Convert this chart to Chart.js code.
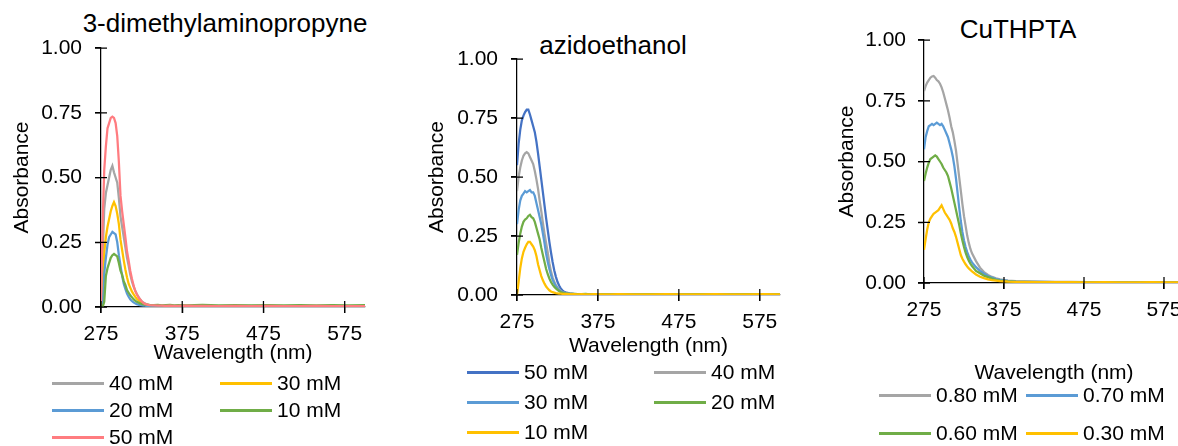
<!DOCTYPE html>
<html>
<head>
    <meta charset="utf-8">
    <script src="https://cdn.jsdelivr.net/npm/chart.js@4.4.1/dist/chart.umd.min.js"></script>
    <title>Spectres UV-vis</title>
    <style>
        body { margin: 0; width: 1178px; height: 446px; overflow: hidden; position: relative; background: #fff;
               font-family: "Liberation Sans", Arial, sans-serif; color: #000; }
        canvas { position: absolute; top: 0; }
        .titre { position: absolute; width: 340px; font-size: 26px; line-height: 30px; text-align: center; white-space: nowrap; }
        .legende { position: absolute; font-size: 21px; }
        .item { position: absolute; display: flex; align-items: center; white-space: nowrap; line-height: 24px; }
        .trait { display: inline-block; width: 52px; height: 3px; margin-right: 5px; }
    </style>
</head>
<body>

<div class="titre" style="left:55px; top:8px;">3-dimethylaminopropyne</div>
<div class="titre" style="left:443px; top:30px;">azidoethanol</div>
<div class="titre" style="left:848px; top:14px;">CuTHPTA</div>

<canvas id="chartAlcyne" width="400" height="372" style="left:0px;"></canvas>
<canvas id="chartAzide" width="390" height="365" style="left:410px;"></canvas>
<canvas id="chartCuivre" width="400" height="392" style="left:810px;"></canvas>

<div class="legende" id="legAlcyne" style="left:52px; top:371px;"></div>
<div class="legende" id="legAzide" style="left:467px; top:360px;"></div>
<div class="legende" id="legCuivre" style="left:879px; top:383px;"></div>

<script>
    // Longueurs d'onde (nm) communes aux trois spectres
    const wavelength = [275, 277, 279, 281, 283, 285, 287, 289, 291, 293, 295, 297, 299, 301, 303, 305,
        307, 309, 311, 313, 315, 317, 319, 321, 323, 325, 327, 329, 331, 333, 335,
        340, 345, 350, 355, 360, 365, 370, 380, 390, 400, 420, 440, 460, 480, 500, 520, 540, 560, 580, 600];

    const xTicks = [275, 375, 475, 575];
    const yTicks = [0, 0.25, 0.5, 0.75, 1];

    // 3-dimethylaminopropyne
    const alcyneLabels = ['40 mM', '30 mM', '20 mM', '10 mM', '50 mM'];
    const alcyneColors = ['#a5a5a5', '#ffc000', '#5b9bd5', '#70ad47', '#ff7c80'];
    const alcyne40 = [0.02, 0.20, 0.38, 0.44, 0.47, 0.50, 0.53, 0.545, 0.52, 0.50, 0.48, 0.42, 0.35, 0.31, 0.27, 0.23,
        0.19, 0.16, 0.125, 0.10, 0.08, 0.065, 0.05, 0.04, 0.03, 0.022, 0.018, 0.014, 0.011, 0.009, 0.008,
        0.006, 0.005, 0.004, 0.005, 0.004, 0.004, 0.003, 0.004, 0.003, 0.004, 0.003, 0.003, 0.004, 0.003, 0.003, 0.002, 0.003, 0.003, 0.002, 0.003];
    const alcyne30 = [0.0, 0.08, 0.21, 0.27, 0.31, 0.34, 0.37, 0.39, 0.405, 0.39, 0.36, 0.32, 0.26, 0.22, 0.18, 0.145,
        0.115, 0.09, 0.075, 0.06, 0.05, 0.04, 0.032, 0.026, 0.021, 0.017, 0.014, 0.011, 0.009, 0.008, 0.007,
        0.005, 0.004, 0.004, 0.003, 0.004, 0.003, 0.003, 0.004, 0.003, 0.003, 0.002, 0.003, 0.003, 0.002, 0.003, 0.002, 0.003, 0.002, 0.002, 0.003];
    const alcyne20 = [0.0, 0.0, 0.13, 0.19, 0.24, 0.27, 0.28, 0.29, 0.285, 0.28, 0.25, 0.20, 0.16, 0.12, 0.09, 0.07,
        0.052, 0.04, 0.03, 0.023, 0.018, 0.014, 0.011, 0.009, 0.007, 0.006, 0.005, 0.005, 0.004, 0.004, 0.004,
        0.003, 0.003, 0.002, 0.003, 0.002, 0.002, 0.003, 0.002, 0.002, 0.001, 0.002, 0.002, 0.001, 0.002, 0.002, 0.001, 0.002, 0.001, 0.002, 0.001];
    const alcyne10 = [0.0, 0.0, 0.02, 0.12, 0.15, 0.17, 0.19, 0.20, 0.205, 0.20, 0.195, 0.17, 0.14, 0.125, 0.10, 0.085,
        0.065, 0.055, 0.045, 0.038, 0.03, 0.025, 0.02, 0.017, 0.014, 0.012, 0.01, 0.009, 0.008, 0.008, 0.007,
        0.007, 0.008, 0.006, 0.007, 0.008, 0.006, 0.007, 0.006, 0.007, 0.008, 0.006, 0.007, 0.006, 0.007, 0.006, 0.007, 0.006, 0.007, 0.006, 0.007];
    const alcyne50 = [0.02, 0.32, 0.53, 0.62, 0.69, 0.71, 0.73, 0.735, 0.73, 0.71, 0.66, 0.56, 0.43, 0.37, 0.32, 0.27,
        0.215, 0.18, 0.14, 0.11, 0.085, 0.062, 0.05, 0.038, 0.03, 0.022, 0.016, 0.012, 0.01, 0.008, 0.007,
        0.006, 0.005, 0.005, 0.004, 0.005, 0.004, 0.004, 0.005, 0.004, 0.004, 0.003, 0.004, 0.003, 0.004, 0.003, 0.003, 0.004, 0.003, 0.003, 0.003];

    // azidoethanol
    const azideLabels = ['50 mM', '40 mM', '30 mM', '20 mM', '10 mM'];
    const azideColors = ['#4472c4', '#a5a5a5', '#5b9bd5', '#70ad47', '#ffc000'];
    const azide50 = [0.55, 0.64, 0.70, 0.74, 0.76, 0.775, 0.785, 0.785, 0.765, 0.74, 0.715, 0.69, 0.65, 0.60, 0.545, 0.49,
        0.435, 0.38, 0.325, 0.275, 0.225, 0.18, 0.14, 0.105, 0.078, 0.056, 0.04, 0.028, 0.02, 0.014, 0.011,
        0.007, 0.005, 0.004, 0.004, 0.003, 0.004, 0.003, 0.003, 0.004, 0.003, 0.003, 0.002, 0.003, 0.003, 0.002, 0.003, 0.002, 0.003, 0.002, 0.003];
    const azide40 = [0.44, 0.50, 0.54, 0.57, 0.59, 0.60, 0.605, 0.60, 0.585, 0.57, 0.555, 0.525, 0.49, 0.45, 0.40, 0.355,
        0.305, 0.26, 0.22, 0.18, 0.135, 0.10, 0.075, 0.056, 0.042, 0.032, 0.024, 0.017, 0.013, 0.01, 0.008,
        0.006, 0.005, 0.004, 0.003, 0.004, 0.003, 0.003, 0.004, 0.003, 0.002, 0.003, 0.003, 0.002, 0.003, 0.002, 0.003, 0.002, 0.002, 0.003, 0.002];
    const azide30 = [0.30, 0.36, 0.40, 0.42, 0.43, 0.44, 0.435, 0.44, 0.445, 0.435, 0.435, 0.42, 0.39, 0.36, 0.33, 0.30,
        0.26, 0.22, 0.175, 0.14, 0.11, 0.085, 0.064, 0.05, 0.038, 0.028, 0.02, 0.015, 0.011, 0.009, 0.007,
        0.005, 0.004, 0.004, 0.003, 0.003, 0.004, 0.003, 0.002, 0.003, 0.003, 0.002, 0.003, 0.002, 0.002, 0.003, 0.002, 0.002, 0.003, 0.002, 0.002];
    const azide20 = [0.17, 0.22, 0.26, 0.29, 0.31, 0.32, 0.325, 0.335, 0.34, 0.33, 0.325, 0.31, 0.285, 0.26, 0.235, 0.20,
        0.17, 0.14, 0.11, 0.088, 0.07, 0.055, 0.044, 0.035, 0.028, 0.022, 0.017, 0.013, 0.01, 0.008, 0.007,
        0.005, 0.005, 0.004, 0.004, 0.005, 0.003, 0.004, 0.004, 0.003, 0.004, 0.003, 0.004, 0.003, 0.003, 0.004, 0.003, 0.003, 0.004, 0.003, 0.003];
    const azide10 = [0.0, 0.056, 0.113, 0.155, 0.183, 0.20, 0.215, 0.225, 0.225, 0.215, 0.205, 0.19, 0.165, 0.13, 0.105, 0.08,
        0.062, 0.048, 0.036, 0.027, 0.02, 0.015, 0.012, 0.01, 0.008, 0.007, 0.006, 0.006, 0.005, 0.005, 0.005,
        0.004, 0.004, 0.003, 0.004, 0.003, 0.003, 0.004, 0.003, 0.003, 0.004, 0.003, 0.003, 0.004, 0.003, 0.003, 0.004, 0.003, 0.003, 0.004, 0.003];

    // CuTHPTA
    const cuivreLabels = ['0.80 mM', '0.70 mM', '0.60 mM', '0.30 mM'];
    const cuivreColors = ['#a5a5a5', '#5b9bd5', '#70ad47', '#ffc000'];
    const cuivre080 = [0.79, 0.81, 0.825, 0.835, 0.845, 0.85, 0.852, 0.845, 0.835, 0.83, 0.82, 0.805, 0.785, 0.76, 0.735, 0.71,
        0.68, 0.645, 0.62, 0.585, 0.545, 0.49, 0.435, 0.38, 0.325, 0.275, 0.235, 0.195, 0.165, 0.14, 0.122,
        0.09, 0.063, 0.045, 0.033, 0.025, 0.019, 0.015, 0.01, 0.008, 0.007, 0.006, 0.005, 0.005, 0.004, 0.004, 0.004, 0.003, 0.004, 0.003, 0.003];
    const cuivre070 = [0.55, 0.60, 0.625, 0.645, 0.65, 0.655, 0.65, 0.655, 0.66, 0.655, 0.65, 0.655, 0.645, 0.63, 0.615, 0.60,
        0.575, 0.55, 0.52, 0.48, 0.43, 0.37, 0.31, 0.255, 0.21, 0.175, 0.148, 0.127, 0.11, 0.097, 0.085,
        0.065, 0.05, 0.038, 0.029, 0.022, 0.016, 0.013, 0.009, 0.007, 0.006, 0.005, 0.004, 0.004, 0.004, 0.003, 0.003, 0.003, 0.003, 0.003, 0.002];
    const cuivre060 = [0.42, 0.45, 0.475, 0.495, 0.51, 0.515, 0.52, 0.525, 0.52, 0.51, 0.50, 0.49, 0.475, 0.465, 0.455, 0.44,
        0.415, 0.39, 0.36, 0.33, 0.30, 0.27, 0.24, 0.205, 0.175, 0.148, 0.125, 0.107, 0.092, 0.08, 0.07,
        0.05, 0.04, 0.03, 0.024, 0.018, 0.013, 0.01, 0.007, 0.005, 0.004, 0.004, 0.003, 0.003, 0.002, 0.003, 0.002, 0.002, 0.002, 0.002, 0.002];
    const cuivre030 = [0.136, 0.18, 0.22, 0.25, 0.265, 0.275, 0.285, 0.29, 0.295, 0.30, 0.31, 0.32, 0.305, 0.29, 0.28, 0.27,
        0.26, 0.245, 0.225, 0.21, 0.19, 0.165, 0.14, 0.115, 0.1, 0.088, 0.077, 0.068, 0.06, 0.054, 0.048,
        0.035, 0.026, 0.02, 0.015, 0.012, 0.01, 0.008, 0.006, 0.005, 0.005, 0.004, 0.004, 0.004, 0.003, 0.004, 0.003, 0.003, 0.004, 0.003, 0.003];

    Chart.defaults.font.family = '"Liberation Sans", Arial, sans-serif';
    Chart.defaults.font.size = 21;
    Chart.defaults.color = '#000';

    // Les graduations traversent les axes (des deux côtés)
    const croixGraduations = {
        id: 'croixGraduations',
        afterDatasetsDraw(chart) {
            const {ctx, chartArea, scales} = chart;
            ctx.save();
            ctx.strokeStyle = '#000';
            ctx.lineWidth = 1.25;
            ctx.beginPath();
            scales.x.ticks.forEach(t => {
                const px = scales.x.getPixelForValue(t.value);
                ctx.moveTo(px, chartArea.bottom - 6);
                ctx.lineTo(px, chartArea.bottom + 6);
            });
            scales.y.ticks.forEach(t => {
                const py = scales.y.getPixelForValue(t.value);
                ctx.moveTo(chartArea.left - 6, py);
                ctx.lineTo(chartArea.left + 6, py);
            });
            ctx.stroke();
            ctx.restore();
        }
    };

    // On construit un spectre : labels, couleurs, valeurs + réglages de mise en page
    function spectre(id, labels, colors, series, geo) {
        const datasets = series.map((values, i) => ({
            label: labels[i],
            data: wavelength.map((x, k) => ({x: x, y: values[k]})),
            borderColor: colors[i],
            backgroundColor: colors[i],
            borderWidth: 2.25,
            pointRadius: 0,
            fill: false,
            order: series.length - 1 - i   // la dernière série est dessinée au-dessus
        }));

        return new Chart(document.getElementById(id), {
            type: 'line',
            data: {datasets: datasets},
            plugins: [croixGraduations],
            options: {
                responsive: false,
                animation: false,
                layout: {padding: {left: 0, top: geo.top, right: geo.right, bottom: 0}},
                plugins: {legend: {display: false}, tooltip: {enabled: false}},
                scales: {
                    x: {
                        type: 'linear',
                        min: 275,
                        max: 600,
                        afterBuildTicks: s => { s.ticks = xTicks.map(v => ({value: v})); },
                        afterFit: s => { s.height = geo.xHeight; },
                        ticks: {padding: geo.xPad, maxRotation: 0, autoSkip: false},
                        grid: {drawOnChartArea: false, color: '#000', lineWidth: 1.25, tickLength: 6},
                        border: {color: '#000', width: 1.25},
                        title: {display: true, text: 'Wavelength (nm)', padding: {top: 0, bottom: 6.4}}
                    },
                    y: {
                        min: 0,
                        max: 1,
                        afterBuildTicks: s => { s.ticks = yTicks.map(v => ({value: v})); },
                        afterFit: s => { s.width = geo.yWidth; },
                        ticks: {padding: geo.yPad, callback: v => v.toFixed(2)},
                        grid: {drawOnChartArea: false, color: '#000', lineWidth: 1.25, tickLength: 6},
                        border: {color: '#000', width: 1.25},
                        title: {display: true, text: 'Absorbance', padding: {top: geo.yTitlePad, bottom: 0}}
                    }
                }
            }
        });
    }

    // Légende HTML en deux colonnes, construite à partir des datasets
    function legende(chart, id, colGap, rowGap) {
        const box = document.getElementById(id);
        chart.data.datasets.forEach((ds, i) => {
            const item = document.createElement('div');
            item.className = 'item';
            item.style.left = (i % 2) * colGap + 'px';
            item.style.top = Math.floor(i / 2) * rowGap + 'px';
            item.innerHTML = '<span class="trait" style="background:' + ds.borderColor + '"></span>' + ds.label;
            box.appendChild(item);
        });
    }

    const chartAlcyne = spectre('chartAlcyne', alcyneLabels, alcyneColors,
        [alcyne40, alcyne30, alcyne20, alcyne10, alcyne50],
        {top: 48, right: 35, yWidth: 101, xHeight: 65, xPad: 9, yPad: 13, yTitlePad: 9.4});

    const chartAzide = spectre('chartAzide', azideLabels, azideColors,
        [azide50, azide40, azide30, azide20, azide10],
        {top: 59, right: 20, yWidth: 107, xHeight: 70, xPad: 8.5, yPad: 13, yTitlePad: 14.4});

    const chartCuivre = spectre('chartCuivre', cuivreLabels, cuivreColors,
        [cuivre080, cuivre070, cuivre060, cuivre030],
        {top: 40, right: 26, yWidth: 114, xHeight: 109, xPad: 8.5, yPad: 12, yTitlePad: 24.4});

    legende(chartAlcyne, 'legAlcyne', 168, 27);
    legende(chartAzide, 'legAzide', 187, 30);
    legende(chartCuivre, 'legCuivre', 147, 38);
</script>
</body>
</html>
